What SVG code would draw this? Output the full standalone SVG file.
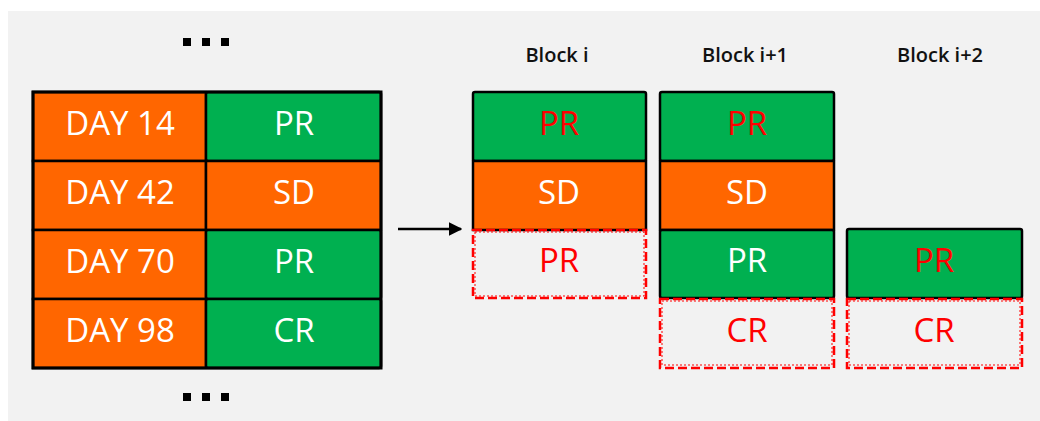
<svg xmlns="http://www.w3.org/2000/svg" width="1040" height="421" viewBox="0 0 1040 421">
<style>
.bg{fill:#f2f2f2}
.or{fill:#ff6600;stroke:#000;stroke-width:2.5}
.gr{fill:#00b050;stroke:#000;stroke-width:2.5}
.dash{fill:none;stroke:#ff0000;stroke-width:2.5;stroke-dasharray:9 4}
.dot{fill:none;stroke:#ff0000;stroke-width:1;stroke-dasharray:2 2}
.t{font-family:"Open Sans","Liberation Sans",Arial,sans-serif;font-size:33px;font-weight:500;text-anchor:middle}
.w{fill:#fff}
.r{fill:#ff0000}
.lbl{font-family:"Open Sans","Liberation Sans",Arial,sans-serif;font-size:20px;font-weight:600;text-anchor:middle;fill:#111}
.sq{fill:#000}
</style>
<defs>
<marker id="ah" viewBox="0 0 10 10" refX="9" refY="5" markerWidth="5.5" markerHeight="5.5" orient="auto"><path d="M0,0 L10,5 L0,10 z" fill="#000"/></marker>
</defs>
<rect class="bg" x="8" y="11" width="1032" height="410"/>
<g id="dots-top"><rect class="sq" x="183" y="38" width="8" height="8"/><rect class="sq" x="202" y="38" width="8" height="8"/><rect class="sq" x="221" y="38" width="8" height="8"/></g>
<g id="dots-bottom"><rect class="sq" x="183" y="393" width="8" height="8"/><rect class="sq" x="202" y="393" width="8" height="8"/><rect class="sq" x="221" y="393" width="8" height="8"/></g>
<g id="table">
<g id="r1"><rect class="or" x="33" y="92" width="173" height="69"/><rect class="gr" x="206" y="92" width="175" height="69" rx="2"/><text class="t w" x="120" y="135">DAY 14</text><text class="t w" x="294" y="135">PR</text></g>
<g id="r2"><rect class="or" x="33" y="161" width="173" height="69"/><rect class="or" x="206" y="161" width="175" height="69"/><text class="t w" x="120" y="204">DAY 42</text><text class="t w" x="294" y="204">SD</text></g>
<g id="r3"><rect class="or" x="33" y="230" width="173" height="69"/><rect class="gr" x="206" y="230" width="175" height="69" rx="2"/><text class="t w" x="120" y="273">DAY 70</text><text class="t w" x="294" y="273">PR</text></g>
<g id="r4"><rect class="or" x="33" y="299" width="173" height="69"/><rect class="gr" x="206" y="299" width="175" height="69" rx="2"/><text class="t w" x="120" y="342">DAY 98</text><text class="t w" x="294" y="342">CR</text></g>
<rect x="33" y="92" width="348" height="276" fill="none" stroke="#000" stroke-width="3"/>
</g>
<g id="connectors"><line x1="398" y1="229" x2="461" y2="229" stroke="#000" stroke-width="2.5" marker-end="url(#ah)"/></g>
<g id="block-i">
<text class="lbl" x="557" y="62">Block i</text>
<rect class="gr" x="473" y="92" width="173" height="69" rx="2"/><text class="t r" x="559" y="135">PR</text>
<rect class="or" x="473" y="161" width="173" height="69"/><text class="t w" x="559" y="204">SD</text>
<rect class="dot" x="475" y="232" width="169" height="64"/>
<rect class="dash" x="473" y="230" width="173" height="68"/><text class="t r" x="559" y="272">PR</text>
</g>
<g id="block-i1">
<text class="lbl" x="745" y="62">Block i+1</text>
<rect class="gr" x="660" y="92" width="174" height="69" rx="2"/><text class="t r" x="747" y="135">PR</text>
<rect class="or" x="660" y="161" width="174" height="69"/><text class="t w" x="747" y="204">SD</text>
<rect class="gr" x="660" y="230" width="174" height="68" rx="2"/><text class="t w" x="747" y="272">PR</text>
<rect class="dot" x="662" y="301" width="170" height="64"/>
<rect class="dash" x="660" y="299" width="174" height="69"/><text class="t r" x="747" y="342">CR</text>
</g>
<g id="block-i2">
<text class="lbl" x="940" y="62">Block i+2</text>
<rect class="gr" x="847" y="229" width="175" height="69" rx="2"/><text class="t r" x="934" y="272">PR</text>
<rect class="dot" x="849" y="301" width="171" height="64"/>
<rect class="dash" x="847" y="299" width="175" height="69"/><text class="t r" x="934" y="342">CR</text>
</g>
</svg>
